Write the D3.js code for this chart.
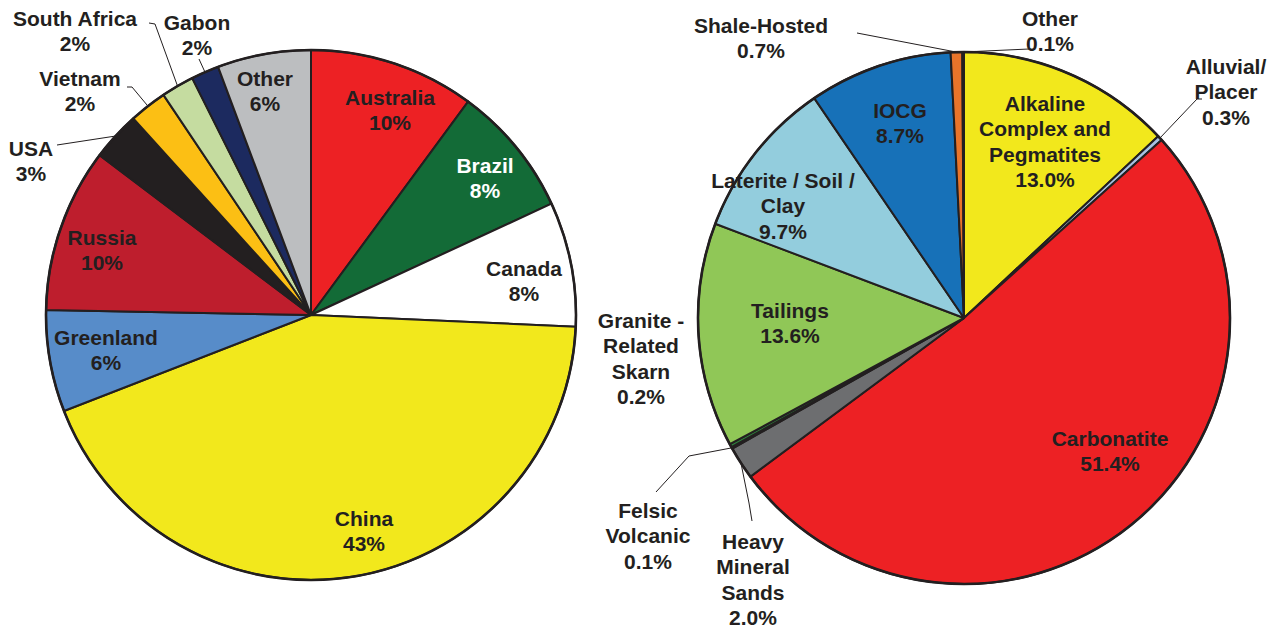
<!DOCTYPE html>
<html>
<head>
<meta charset="utf-8">
<script src="https://cdn.jsdelivr.net/npm/d3@7"></script>
<style>
  html, body { margin: 0; padding: 0; background: #ffffff; }
  svg { display: block; }
  text { font-family: "Liberation Sans", Arial, Helvetica, sans-serif; font-weight: bold; }
</style>
</head>
<body>
<svg id="chart" width="1281" height="628"></svg>
<script>
// ---------- DATA ----------
// Left pie: countries (clockwise from 12 o'clock)
const countryNames = ["Australia", "Brazil", "Canada", "China", "Greenland", "Russia", "USA", "Vietnam", "South Africa", "Gabon", "Other"];
const countryValues = [10.1, 8.0, 7.6, 43.4, 6.2, 10.0, 3.0, 2.3, 2.0, 1.7, 5.7];
const countryPctText = ["10%", "8%", "8%", "43%", "6%", "10%", "3%", "2%", "2%", "2%", "6%"];

// Right pie: deposit types (clockwise from 12 o'clock)
const depositNames = ["Alkaline Complex and Pegmatites", "Alluvial/ Placer", "Carbonatite", "Heavy Mineral Sands", "Felsic Volcanic", "Granite - Related Skarn", "Tailings", "Laterite / Soil / Clay", "IOCG", "Shale-Hosted", "Other"];
const depositValues = [13.0, 0.3, 51.4, 2.0, 0.1, 0.2, 13.6, 9.7, 8.7, 0.7, 0.1];
const depositPctText = ["13.0%", "0.3%", "51.4%", "2.0%", "0.1%", "0.2%", "13.6%", "9.7%", "8.7%", "0.7%", "0.1%"];

// ---------- STYLE / LAYOUT ----------
const countryColors = ["#ed2124", "#136b37", "#ffffff", "#f2e81c", "#578cc9", "#be1e2d", "#231f20", "#fcbf14", "#c5dca0", "#1c2a5f", "#bcbec0"];
const depositColors = ["#f2e81c", "#a7c2e3", "#ed2124", "#6d6e70", "#231f20", "#2e7d3c", "#90c757", "#93cddd", "#1771b8", "#e9742a", "#3a3a3a"];
const countryTextColors = ["#231f20", "#ffffff", "#231f20", "#231f20", "#231f20", "#231f20", "#231f20", "#231f20", "#231f20", "#231f20", "#231f20"];

// label layout: [lines (from name split), x, y of first line, leader points (last point attaches to slice edge)]
const countryLabelLayout = [
  { lines: ["Australia"], x: 390, y: 97 },
  { lines: ["Brazil"], x: 485, y: 165 },
  { lines: ["Canada"], x: 524, y: 268 },
  { lines: ["China"], x: 364, y: 518 },
  { lines: ["Greenland"], x: 106, y: 337 },
  { lines: ["Russia"], x: 102, y: 237 },
  { lines: ["USA"], x: 31, y: 148, leader: [[57, 145]] },
  { lines: ["Vietnam"], x: 80, y: 78, leader: [[127, 87], [132, 87]] },
  { lines: ["South Africa"], x: 75, y: 18, leader: [[149, 23], [155, 24]] },
  { lines: ["Gabon"], x: 197, y: 22, leader: [[199, 59]] },
  { lines: ["Other"], x: 265, y: 78 }
];
const depositLabelLayout = [
  { lines: ["Alkaline", "Complex and", "Pegmatites"], x: 1045, y: 103 },
  { lines: ["Alluvial/", "Placer"], x: 1226, y: 66, leader: [[1202, 99], [1197, 99]] },
  { lines: ["Carbonatite"], x: 1110, y: 438 },
  { lines: ["Heavy", "Mineral", "Sands"], x: 753, y: 541, leader: [[752, 521], [749, 503]] },
  { lines: ["Felsic", "Volcanic"], x: 648, y: 510, leader: [[656, 492], [689, 456]] },
  { lines: ["Granite -", "Related", "Skarn"], x: 641, y: 320 },
  { lines: ["Tailings"], x: 790, y: 310 },
  { lines: ["Laterite / Soil /", "Clay"], x: 783, y: 180 },
  { lines: ["IOCG"], x: 900, y: 110 },
  { lines: ["Shale-Hosted"], x: 761, y: 25, leader: [[857, 33]] },
  { lines: ["Other"], x: 1050, y: 18, leader: [[1029, 49]] }
];

const lineHeight = 25.5;
const fontSize = 21;
const strokeColor = "#231f20";

const svg = d3.select("#chart");

function drawPie(cx, cy, r, values, colors, layout, pctText, textColors) {
  const g = svg.append("g").attr("transform", `translate(${cx},${cy})`);
  const pie = d3.pie().sort(null).value(d => d).startAngle(0).endAngle(2 * Math.PI);
  const arcs = pie(values);
  const arc = d3.arc().innerRadius(0).outerRadius(r);
  const edge = d3.arc().innerRadius(r).outerRadius(r);

  g.selectAll("path.slice")
    .data(arcs)
    .join("path")
    .attr("class", "slice")
    .attr("d", arc)
    .attr("fill", (d, i) => colors[i])
    .attr("stroke", strokeColor)
    .attr("stroke-width", 2)
    .attr("stroke-linejoin", "round");

  g.append("circle")
    .attr("r", r)
    .attr("fill", "none")
    .attr("stroke", strokeColor)
    .attr("stroke-width", 2.6);

  // leaders
  arcs.forEach((a, i) => {
    const L = layout[i];
    if (!L.leader) return;
    const p = edge.centroid(a);
    const pts = L.leader.map(q => [q[0] - cx, q[1] - cy]).concat([p]);
    g.append("path")
      .attr("d", d3.line()(pts))
      .attr("fill", "none")
      .attr("stroke", strokeColor)
      .attr("stroke-width", 1);
  });

  // labels
  arcs.forEach((a, i) => {
    const L = layout[i];
    const lines = L.lines.concat([pctText[i]]);
    const t = svg.append("text")
      .attr("text-anchor", "middle")
      .attr("font-size", fontSize)
      .attr("fill", textColors ? textColors[i] : strokeColor);
    lines.forEach((s, k) => {
      t.append("tspan")
        .attr("x", L.x)
        .attr("y", L.y + k * lineHeight)
        .attr("dy", "0.36em")
        .text(s);
    });
  });
}

drawPie(311, 315, 265, countryValues, countryColors, countryLabelLayout, countryPctText, countryTextColors);
drawPie(964, 318, 266, depositValues, depositColors, depositLabelLayout, depositPctText, null);
</script>
</body>
</html>
